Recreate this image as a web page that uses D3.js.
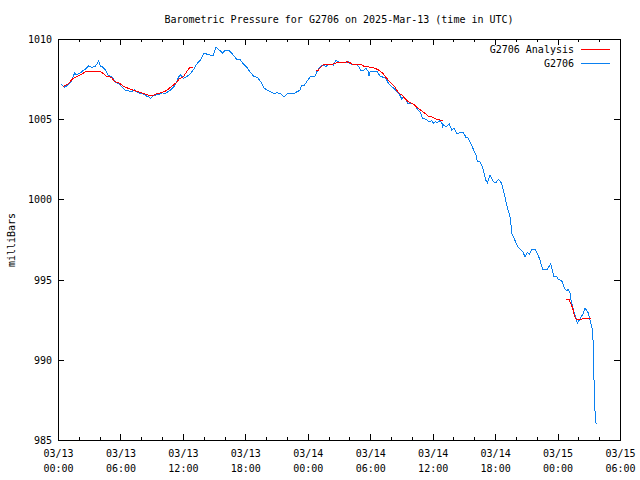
<!DOCTYPE html>
<html>
<head>
<meta charset="utf-8">
<script src="https://cdn.jsdelivr.net/npm/d3@7"></script>
<style>
  html, body { margin: 0; padding: 0; background: #fff; }
  svg { display: block; }
  text { font-family: "DejaVu Sans Mono", "Liberation Mono", monospace; font-size: 10px; fill: #000; }
</style>
</head>
<body>
<svg id="chart" width="640" height="480"></svg>
<script>
// ---- data (hours since 2025-03-13 00:00 UTC, pressure in mbar) ----
const titleText = "Barometric Pressure for G2706 on 2025-Mar-13 (time in UTC)";
const yLabel = "milliBars";
const seriesNames = ["G2706 Analysis", "G2706"];
const yTicks = [985, 990, 995, 1000, 1005, 1010];

const obsHours = [0.32,0.64,0.96,1.22,1.44,1.60,1.76,2.09,2.40,2.72,2.95,3.20,3.53,3.75,3.91,4.06,4.32,4.55,4.80,5.03,5.28,5.51,5.77,6.08,6.41,6.73,7.04,7.37,7.52,7.85,8.17,8.48,8.72,8.91,9.13,9.45,9.77,9.99,10.31,10.57,10.89,11.15,11.37,11.60,11.79,12.04,12.37,12.68,13.00,13.33,13.64,14.03,14.29,14.61,14.92,15.18,15.50,15.83,16.05,16.46,16.84,17.17,17.49,17.81,18.13,18.45,18.77,19.15,19.48,19.79,20.11,20.44,20.76,21.07,21.40,21.72,22.03,22.36,22.61,22.94,23.25,23.40,23.64,23.90,24.21,24.69,24.92,25.18,25.49,25.75,25.97,26.45,26.71,26.93,27.26,27.58,27.89,28.13,28.70,28.95,29.09,29.34,29.59,29.82,29.88,29.98,30.68,30.94,31.26,31.52,31.74,32.07,32.38,32.70,32.93,33.03,33.18,33.44,33.66,33.99,34.30,34.53,34.78,35.04,35.36,35.68,35.91,36.06,36.23,36.45,36.71,36.93,36.97,37.02,37.28,37.60,37.83,38.05,38.37,38.63,38.95,39.20,39.43,39.66,39.91,40.16,40.29,40.55,40.81,40.93,41.13,41.25,41.51,41.83,42.09,42.31,42.54,42.73,42.95,43.17,43.43,43.56,43.62,43.82,44.01,44.23,44.46,44.65,44.87,45.10,45.29,45.52,45.84,46.06,46.32,46.48,46.63,46.96,47.21,47.34,47.53,47.66,47.92,48.07,48.40,48.55,48.72,48.88,49.03,49.20,49.26,49.46,49.61,49.78,49.90,50.09,50.33,50.48,50.64,50.80,50.96,51.12,51.28,51.38,51.44,51.50,51.59,51.70];
const obsPressure = [1007.18,1006.99,1007.13,1007.28,1007.65,1007.86,1007.76,1007.86,1008.02,1008.17,1008.32,1008.24,1008.27,1008.44,1008.63,1008.32,1008.24,1008.07,1007.76,1007.69,1007.55,1007.28,1007.24,1007.07,1006.82,1006.78,1006.71,1006.86,1006.71,1006.61,1006.57,1006.45,1006.40,1006.30,1006.45,1006.51,1006.57,1006.65,1006.61,1006.71,1006.86,1007.03,1007.28,1007.65,1007.76,1007.55,1007.65,1007.82,1008.07,1008.44,1008.65,1009.11,1009.06,1009.00,1009.00,1009.48,1009.31,1009.11,1009.31,1009.27,1009.00,1008.73,1008.73,1008.44,1008.24,1007.96,1007.69,1007.61,1007.34,1006.93,1006.82,1006.71,1006.61,1006.65,1006.57,1006.40,1006.57,1006.61,1006.57,1006.71,1006.80,1007.13,1007.10,1007.34,1007.63,1007.69,1008.02,1008.27,1008.38,1008.27,1008.44,1008.38,1008.65,1008.58,1008.52,1008.52,1008.58,1008.44,1008.38,1008.24,1008.02,1008.02,1008.17,1007.96,1007.69,1007.96,1007.96,1007.69,1007.61,1007.55,1007.24,1007.03,1006.86,1006.65,1006.40,1006.24,1006.40,1006.20,1005.95,1005.99,1005.89,1005.62,1005.47,1005.06,1004.99,1004.84,1004.91,1004.74,1004.84,1004.78,1004.91,1004.70,1004.43,1004.70,1004.53,1004.70,1004.33,1004.43,1004.08,1004.16,1004.16,1003.87,1003.81,1003.50,1003.12,1002.77,1002.39,1002.35,1002.00,1001.63,1001.17,1001.04,1001.52,1001.10,1001.04,1001.25,1001.10,1000.75,1000.13,999.51,998.92,998.20,997.84,997.57,997.30,997.01,996.85,996.74,996.43,996.68,996.60,996.85,996.89,996.64,996.22,995.80,995.60,995.60,995.85,995.97,995.49,995.18,995.18,995.02,994.93,994.66,994.40,994.31,994.40,994.15,993.83,993.31,992.90,992.59,992.28,992.48,992.73,992.90,993.21,993.10,992.90,992.48,992.06,991.75,990.65,988.85,986.91,986.00];

// analysis series: null marks a gap between runs
const anaHours = [0.48,0.96,1.44,1.92,2.40,2.72,4.01,4.32,4.64,5.12,5.45,5.93,6.25,6.73,7.21,7.69,8.17,8.65,8.97,9.45,9.93,10.41,10.89,11.37,11.69,12.01,12.37,12.68,12.97,
  12.98,
  24.79,25.01,25.11,25.49,25.75,26.45,26.78,27.41,27.74,28.06,28.22,28.54,29.18,29.50,30.14,30.68,30.94,31.26,31.58,31.97,32.38,32.70,33.03,33.34,33.56,33.82,34.14,34.47,34.85,35.17,35.58,36.00,36.39,37.02,
  37.03,
  48.81,49.13,49.26,49.46,49.61,49.78,50.00,50.64,51.18];
const anaPressure = [1007.03,1007.19,1007.55,1007.69,1007.86,1007.99,1007.99,1007.86,1007.69,1007.61,1007.34,1007.24,1007.07,1006.93,1006.82,1006.71,1006.61,1006.51,1006.45,1006.57,1006.65,1006.78,1007.03,1007.28,1007.55,1007.61,1007.96,1008.24,1008.24,
  null,
  1008.02,1008.02,1008.17,1008.38,1008.44,1008.44,1008.52,1008.52,1008.58,1008.52,1008.44,1008.38,1008.38,1008.27,1008.24,1008.11,1008.02,1007.82,1007.55,1007.28,1006.99,1006.65,1006.51,1006.30,1006.15,1006.03,1005.95,1005.74,1005.57,1005.41,1005.20,1005.12,1004.99,1004.91,
  null,
  993.73,993.73,993.52,993.21,992.79,992.53,992.48,992.59,992.59];

// ---- chart ----
const startMs = Date.UTC(2025, 2, 13, 0, 0);
const endMs = Date.UTC(2025, 2, 15, 6, 0);
const toDate = h => new Date(startMs + h * 3600e3);

const svg = d3.select("#chart");
const plotL = 58, plotR = 620, plotT = 39, plotB = 440;

const x = d3.scaleUtc().domain([new Date(startMs), new Date(endMs)]).range([plotL, plotR]);
const y = d3.scaleLinear().domain([985, 1010]).range([plotB, plotT]);

const obs = obsHours.map((h, i) => ({ t: toDate(h), v: obsPressure[i] }));
const ana = anaHours.map((h, i) => ({ t: toDate(h), v: anaPressure[i] }));

const line = d3.line().defined(d => d.v != null).x(d => x(d.t)).y(d => y(d.v));

const majorTicks = d3.utcHour.every(6).range(new Date(startMs), new Date(endMs + 1));
const minorTicks = d3.utcHour.every(2).range(new Date(startMs), new Date(endMs + 1));

const fmtDate = d3.utcFormat("%m/%d");
const fmtTime = d3.utcFormat("%H:%M");

const axisG = svg.append("g").attr("shape-rendering", "crispEdges");
axisG.append("g").attr("transform", `translate(0,${plotB})`)
  .call(d3.axisBottom(x).tickValues(minorTicks).tickSize(-3).tickFormat(""))
  .call(g => g.select(".domain").remove());
axisG.append("g").attr("transform", `translate(0,${plotT})`)
  .call(d3.axisTop(x).tickValues(minorTicks).tickSize(-3).tickFormat(""))
  .call(g => g.select(".domain").remove());
const xb = axisG.append("g").attr("transform", `translate(0,${plotB})`)
  .call(d3.axisBottom(x).tickValues(majorTicks).tickSize(-6).tickFormat(""));
xb.select(".domain").remove();
xb.selectAll(".tick").each(function(d) {
  const t = d3.select(this).append("text").attr("text-anchor", "middle").attr("fill", "#000")
    .attr("font-family", "DejaVu Sans Mono").attr("font-size", 10);
  t.append("tspan").attr("x", 0).attr("y", 17).text(fmtDate(d));
  t.append("tspan").attr("x", 0).attr("y", 32).text(fmtTime(d));
});
axisG.append("g").attr("transform", `translate(0,${plotT})`)
  .call(d3.axisTop(x).tickValues(majorTicks).tickSize(-6).tickFormat(""))
  .call(g => g.select(".domain").remove());

axisG.append("g").attr("transform", `translate(${plotL},0)`)
  .call(d3.axisLeft(y).tickValues(yTicks).tickSize(-6).tickPadding(6).tickFormat(d3.format("d")))
  .call(g => g.select(".domain").remove())
  .call(g => g.selectAll("text").attr("font-size", 10).attr("font-family", "DejaVu Sans Mono").attr("dy", "0.35em"));
axisG.append("g").attr("transform", `translate(${plotR},0)`)
  .call(d3.axisRight(y).tickValues(yTicks).tickSize(-6).tickFormat(""))
  .call(g => g.select(".domain").remove());

axisG.selectAll(".tick line").attr("stroke", "#000");

axisG.append("rect").attr("x", plotL + 0.5).attr("y", plotT + 0.5)
  .attr("width", plotR - plotL).attr("height", plotB - plotT)
  .attr("fill", "none").attr("stroke", "#000").attr("stroke-width", 1);

svg.append("path").datum(obs).attr("d", line)
  .attr("fill", "none").attr("stroke", "#0a80f0").attr("stroke-width", 1)
  .attr("shape-rendering", "crispEdges");
svg.append("path").datum(ana).attr("d", line)
  .attr("fill", "none").attr("stroke", "#ff0000").attr("stroke-width", 1)
  .attr("shape-rendering", "crispEdges");

svg.append("text").attr("x", 339).attr("y", 23).attr("text-anchor", "middle").text(titleText);

svg.append("text").attr("transform", "translate(15,240) rotate(-90)")
  .attr("text-anchor", "middle").text(yLabel);

const legColors = ["#ff0000", "#0a80f0"];
seriesNames.forEach((name, i) => {
  const ly = 49 + i * 14;
  svg.append("text").attr("x", 574).attr("y", ly).attr("dy", "0.35em")
    .attr("text-anchor", "end").text(name);
  svg.append("line").attr("x1", 581).attr("x2", 610).attr("y1", ly + 0.5).attr("y2", ly + 0.5)
    .attr("stroke", legColors[i]).attr("stroke-width", 1).attr("shape-rendering", "crispEdges");
});
</script>
</body>
</html>
